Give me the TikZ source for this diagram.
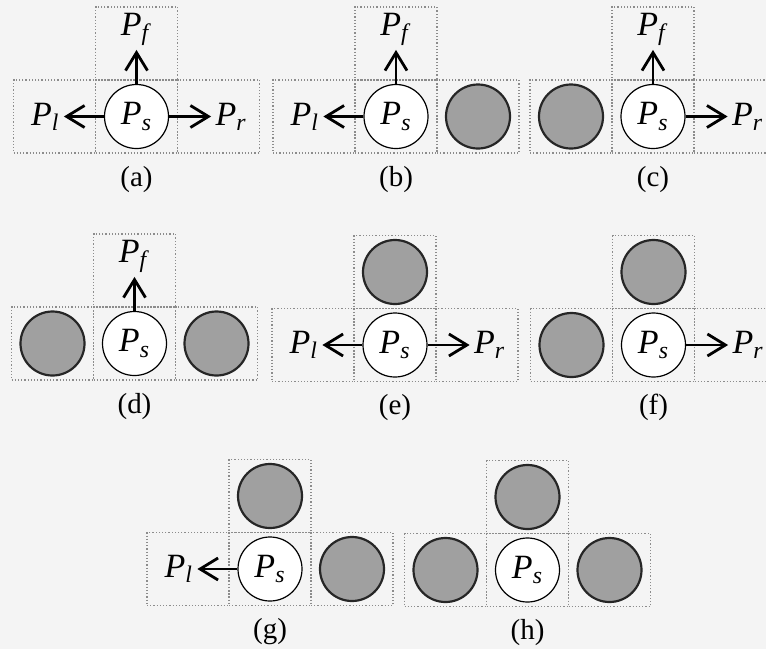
\documentclass[tikz,border=0pt]{standalone}
\usepackage{fontspec}
\setmainfont{Liberation Serif}
\usetikzlibrary{arrows.meta,positioning}
\definecolor{paper}{HTML}{F4F4F4}
\definecolor{grid}{HTML}{8C8C8C}
\definecolor{blocked}{HTML}{A0A0A0}
\newcommand{\pname}[1]{\textit{P}\textsubscript{\textit{#1}}}

\begin{document}
\begin{tikzpicture}[x=0.5pt, y=-0.5pt, node distance=0pt,
  cell/.style={draw=grid, densely dotted, line width=0.6pt, minimum width=41pt,
    minimum height=36.5pt, inner sep=0pt, outer sep=0pt},
  self/.style={circle, draw, line width=0.6pt, fill=white, minimum size=32pt,
    inner sep=0pt, font=\fontsize{17}{19}\selectfont},
  obst/.style={circle, draw=black!85, line width=1.1pt, fill=blocked,
    minimum size=32pt, inner sep=0pt},
  lbl/.style={inner sep=2pt, font=\fontsize{17}{19}\selectfont},
  subcap/.style={font=\fontsize{14.5}{16}\selectfont},
  mv/.style={-{Straight Barb[length=9pt,width=11pt,line width=1.4pt]}, line width=1.3pt}]
  \fill[paper, use as bounding box] (0,0) rectangle (766,649);

  \node[cell] (cA) at (136.5,116.5) {};
  \node[cell, left=of cA] (lA) {};
  \node[cell, right=of cA] (rA) {};
  \node[cell, above=of cA] (tA) {};
  \node[self] (sA) at (cA) {\pname{s}};
  \node[lbl, left=20pt of sA] (plA) {\pname{l}};
  \node[lbl, right=21pt of sA] (prA) {\pname{r}};
  \node[lbl, above=17pt of sA] (pfA) {\pname{f}};
  \node[subcap, below=3pt of cA] (capA) {(a)};
  \draw[mv] (sA) -- (plA);
  \draw[mv] (sA) -- (prA);
  \draw[mv] (sA) -- (pfA);

  \node[cell] (cB) at (396,116.5) {};
  \node[cell, left=of cB] (lB) {};
  \node[cell, right=of cB] (rB) {};
  \node[cell, above=of cB] (tB) {};
  \node[self] (sB) at (cB) {\pname{s}};
  \node[obst] (oRB) at (rB) {};
  \node[lbl, left=20pt of sB] (plB) {\pname{l}};
  \node[lbl, above=17pt of sB] (pfB) {\pname{f}};
  \node[subcap, below=3pt of cB] (capB) {(b)};
  \draw[mv] (sB) -- (plB);
  \draw[mv] (sB) -- (pfB);

  \node[cell] (cC) at (653,116.5) {};
  \node[cell, left=of cC] (lC) {};
  \node[cell, right=of cC] (rC) {};
  \node[cell, above=of cC] (tC) {};
  \node[self] (sC) at (cC) {\pname{s}};
  \node[obst] (oLC) at (lC) {};
  \node[lbl, right=21pt of sC] (prC) {\pname{r}};
  \node[lbl, above=17pt of sC] (pfC) {\pname{f}};
  \node[subcap, below=3pt of cC] (capC) {(c)};
  \draw[mv] (sC) -- (prC);
  \draw[mv] (sC) -- (pfC);

  \node[cell] (cD) at (134.5,343.5) {};
  \node[cell, left=of cD] (lD) {};
  \node[cell, right=of cD] (rD) {};
  \node[cell, above=of cD] (tD) {};
  \node[self] (sD) at (cD) {\pname{s}};
  \node[obst] (oLD) at (lD) {};
  \node[obst] (oRD) at (rD) {};
  \node[lbl, above=17pt of sD] (pfD) {\pname{f}};
  \node[subcap, below=3pt of cD] (capD) {(d)};
  \draw[mv] (sD) -- (pfD);

  \node[cell] (cE) at (395,345) {};
  \node[cell, left=of cE] (lE) {};
  \node[cell, right=of cE] (rE) {};
  \node[cell, above=of cE] (tE) {};
  \node[self] (sE) at (cE) {\pname{s}};
  \node[obst] (oTE) at (tE) {};
  \node[lbl, left=20pt of sE] (plE) {\pname{l}};
  \node[lbl, right=21pt of sE] (prE) {\pname{r}};
  \node[subcap, below=3pt of cE] (capE) {(e)};
  \draw[mv] (sE) -- (plE);
  \draw[mv] (sE) -- (prE);

  \node[cell] (cF) at (653.5,345) {};
  \node[cell, left=of cF] (lF) {};
  \node[cell, right=of cF] (rF) {};
  \node[cell, above=of cF] (tF) {};
  \node[self] (sF) at (cF) {\pname{s}};
  \node[obst] (oTF) at (tF) {};
  \node[obst] (oLF) at (lF) {};
  \node[lbl, right=21pt of sF] (prF) {\pname{r}};
  \node[subcap, below=3pt of cF] (capF) {(f)};
  \draw[mv] (sF) -- (prF);

  \node[cell] (cG) at (270,569) {};
  \node[cell, left=of cG] (lG) {};
  \node[cell, right=of cG] (rG) {};
  \node[cell, above=of cG] (tG) {};
  \node[self] (sG) at (cG) {\pname{s}};
  \node[obst] (oTG) at (tG) {};
  \node[obst] (oRG) at (rG) {};
  \node[lbl, left=20pt of sG] (plG) {\pname{l}};
  \node[subcap, below=3pt of cG] (capG) {(g)};
  \draw[mv] (sG) -- (plG);

  \node[cell] (cH) at (527.5,570) {};
  \node[cell, left=of cH] (lH) {};
  \node[cell, right=of cH] (rH) {};
  \node[cell, above=of cH] (tH) {};
  \node[self] (sH) at (cH) {\pname{s}};
  \node[obst] (oTH) at (tH) {};
  \node[obst] (oLH) at (lH) {};
  \node[obst] (oRH) at (rH) {};
  \node[subcap, below=3pt of cH] (capH) {(h)};
\end{tikzpicture}
\end{document}
